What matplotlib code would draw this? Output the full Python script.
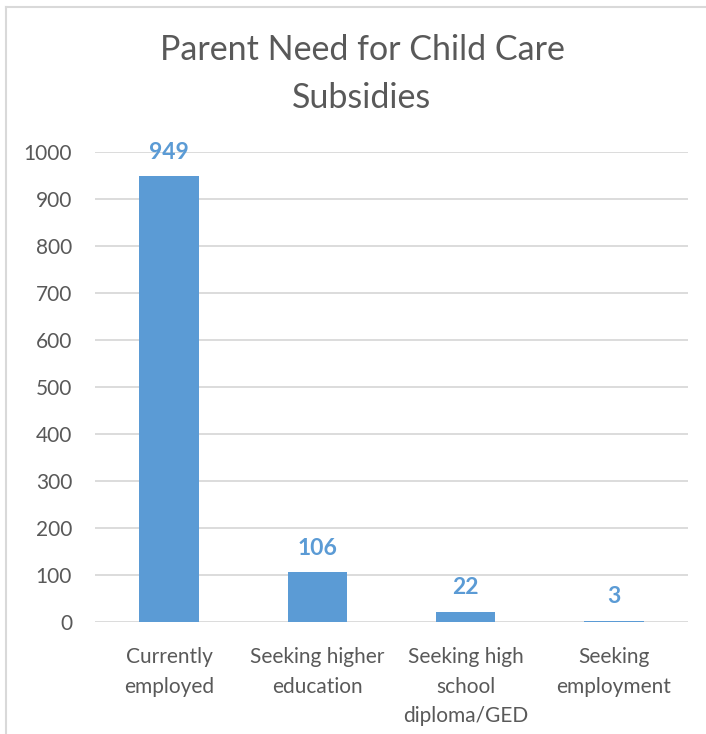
import matplotlib.pyplot as plt
from matplotlib.lines import Line2D

categories = ['Currently\nemployed', 'Seeking higher\neducation',
              'Seeking high\nschool\ndiploma/GED', 'Seeking\nemployment']
values = [949, 106, 22, 3]
yticks = [0, 100, 200, 300, 400, 500, 600, 700, 800, 900, 1000]

blue = '#5B9BD5'
grey = '#595959'
W, H = 706, 734

plt.rcParams['font.family'] = ['Lato', 'DejaVu Sans']

fig = plt.figure(figsize=(W / 100, H / 100), dpi=100)
ax = fig.add_axes([95 / W, 1 - 622 / H, (688 - 95) / W, (622 - 152) / H])

x = range(len(categories))
ax.bar(x, values, width=0.4, color=blue, zorder=3)
for xi, v in zip(x, values):
    ax.text(xi, v + 28, str(v), ha='center', va='bottom', color=blue,
            fontsize=16.5, fontweight='bold', zorder=4)

ax.set_xlim(-0.5, len(categories) - 0.5)
ax.set_ylim(0, 1000)
ax.set_yticks(yticks)
ax.set_xticks(list(x))
ax.set_xticklabels(categories, linespacing=1.6)
ax.tick_params(axis='both', length=0, labelsize=15, colors=grey)
ax.tick_params(axis='y', pad=16.5)
ax.tick_params(axis='x', pad=18)
ax.yaxis.grid(True, color='#D9D9D9', linewidth=1.3, zorder=0)
for s in ax.spines.values():
    s.set_visible(False)

fig.text(362 / W, 1 - 74 / H, 'Parent Need for Child Care\nSubsidies',
         ha='center', va='center', fontsize=24.5, color=grey, linespacing=1.6)

# chart frame (top and left edges visible)
fig.add_artist(Line2D([6 / W, 1], [1 - 7 / H, 1 - 7 / H], color='#D9D9D9', lw=1.5))
fig.add_artist(Line2D([6 / W, 6 / W], [0, 1 - 7 / H], color='#D9D9D9', lw=1.5))

fig.savefig('out.png', dpi=100)
